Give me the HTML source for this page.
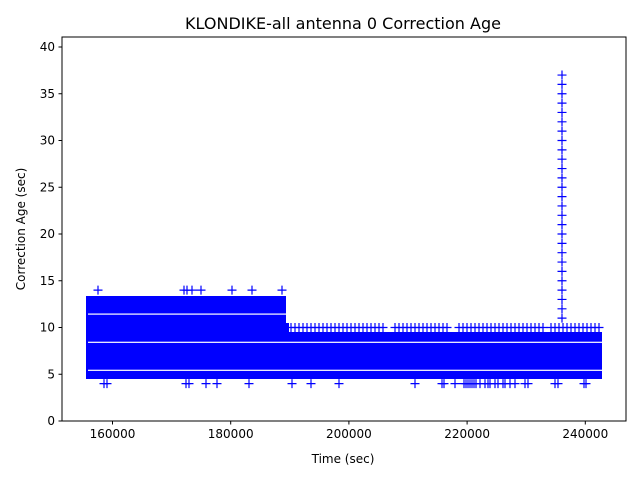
<!DOCTYPE html>
<html><head><meta charset="utf-8"><style>
body{margin:0;background:#fff}
svg{display:block;font-family:"DejaVu Sans","Liberation Sans",sans-serif}
</style></head><body>
<svg id="s" width="640" height="480" xmlns="http://www.w3.org/2000/svg">
<rect width="640" height="480" fill="#fff"/>
<text x="343" y="29" font-size="16" text-anchor="middle">KLONDIKE-all antenna 0 Correction Age</text>
<g id="d"></g>
<rect x="62" y="37" width="564" height="384" fill="none" stroke="#000" stroke-width="1"/>
<g id="ax" font-size="12" fill="#000"></g>
<text x="343" y="463" font-size="12" text-anchor="middle">Time (sec)</text>
<text transform="translate(25,229) rotate(-90)" font-size="12" text-anchor="middle">Correction Age (sec)</text>
</svg>
<script>
var NS="http://www.w3.org/2000/svg";
function el(p,t,a,txt){var e=document.createElementNS(NS,t);for(var k in a)e.setAttribute(k,a[k]);if(txt!=null)e.textContent=txt;p.appendChild(e);return e;}
var d=document.getElementById('d'),ax=document.getElementById('ax');
function Y(v){return 421-v*9.35;}
function X(t){return 112.5+(t-160000)*118.2/20000;}
for(var v=0;v<=40;v+=5){var y=Y(v);el(ax,'line',{x1:58.5,x2:62,y1:y,y2:y,stroke:'#000'});el(ax,'text',{x:55,y:y+4,'text-anchor':'end'},v);}
for(var t=160000;t<=240000;t+=20000){var x=X(t);el(ax,'line',{x1:x,x2:x,y1:421,y2:424.5,stroke:'#000'});el(ax,'text',{x:x,y:438,'text-anchor':'middle'},t);}
var B='#0000ff';
function plus(x,y){el(d,'path',{d:'M'+(x-4.5)+' '+y+'h9M'+x+' '+(y-4.5)+'v9',stroke:B,'stroke-width':1.2,fill:'none'});}
el(d,'rect',{x:86,y:296,width:200,height:83,fill:B});
el(d,'rect',{x:286,y:332,width:316,height:47,fill:B});
el(d,'rect',{x:286,y:323,width:3,height:10,fill:B});
el(d,'rect',{x:88,y:313.5,width:198,height:1.2,fill:'#fff'});
el(d,'rect',{x:88,y:341.7,width:514,height:1.2,fill:'#fff'});
el(d,'rect',{x:88,y:369.7,width:514,height:1.2,fill:'#fff'});
for(var x=291;x<600;x+=4){if((x>385&&x<392)||(x>447&&x<458)||(x>545&&x<548))continue;plus(x,327.5);}
[98,184,187,192,201,232,252,282].forEach(function(x){plus(x,Y(14));});
[104,107,186,189,206,217,249,292,311,339,415,442,444,455,464,466,468,470,472,474,476,480,485,488,490,495,498,503,505,510,515,525,528,555,558,584,586].forEach(function(x){plus(x,Y(4));});
for(var v=11;v<=37;v++)plus(562,Y(v));
</script>
</body></html>
